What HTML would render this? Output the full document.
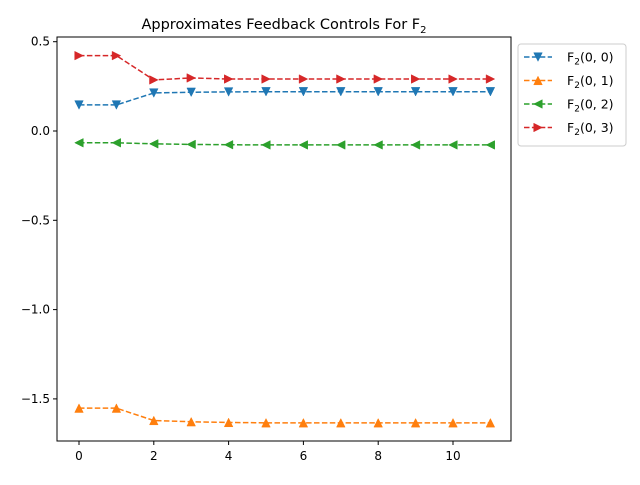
<!DOCTYPE html>
<html><head><meta charset="utf-8"><style>
body{margin:0;background:#fff;font-family:"Liberation Sans","DejaVu Sans",sans-serif}
svg text{font-family:"DejaVu Sans","Liberation Sans",sans-serif}
</style></head><body>
<svg id="chart" width="640" height="480" viewBox="0 0 640 480"></svg>
<script>
const steps=[0,1,2,3,4,5,6,7,8,9,10,11];
const f00=[0.146,0.146,0.213,0.217,0.219,0.220,0.220,0.220,0.220,0.220,0.220,0.220];
const f01=[-1.552,-1.552,-1.621,-1.628,-1.632,-1.634,-1.634,-1.634,-1.634,-1.634,-1.634,-1.634];
const f02=[-0.066,-0.066,-0.072,-0.075,-0.077,-0.078,-0.078,-0.078,-0.078,-0.078,-0.078,-0.078];
const f03=[0.422,0.422,0.286,0.297,0.291,0.291,0.291,0.291,0.291,0.291,0.291,0.291];
const xTicks=[0,2,4,6,8,10];
const yTicks=[0.5,0.0,-0.5,-1.0,-1.5];
const yLabels=["0.5","0.0","\u22120.5","\u22121.0","\u22121.5"];
const seriesNames=["(0, 0)","(0, 1)","(0, 2)","(0, 3)"];
const colors=["#1f77b4","#ff7f0e","#2ca02c","#d62728"];
const NS="http://www.w3.org/2000/svg";
const svg=document.getElementById('chart');
const L=57,R=511,T=37,B=441;
function xs(v){return 79+v*(453-79)/10;}
function ys(v){return 131-v*178.6;}
function mk(tag,a,p){const e=document.createElementNS(NS,tag);for(const k in a)e.setAttribute(k,a[k]);(p||svg).appendChild(e);return e;}
function marker(kind,x,y,c,p){const s=4.3;let pts;
 if(kind==0)pts=[[x-s,y-s],[x+s,y-s],[x,y+s]];
 else if(kind==1)pts=[[x-s,y+s],[x+s,y+s],[x,y-s]];
 else if(kind==2)pts=[[x+s,y-s],[x+s,y+s],[x-s,y]];
 else pts=[[x-s,y-s],[x-s,y+s],[x+s,y]];
 return mk('polygon',{points:pts.map(q=>q.join(',')).join(' '),fill:c,stroke:c,'stroke-width':0.5},p);}
const title=mk('text',{x:284,y:29,'text-anchor':'middle','font-size':14.5});


title.innerHTML='Approximates Feedback Controls For F<tspan font-size="10" dy="4">2</tspan>';
xTicks.forEach(t=>{const x=xs(t);
 const l=mk('line',{x1:x,x2:x,y1:B,y2:B+4,stroke:'#000'});
 
 
 const tx=mk('text',{x:x,y:B+19,'text-anchor':'middle','font-size':12});
 
 
 tx.textContent=t;});
yTicks.forEach((t,i)=>{const y=ys(t);
 const l=mk('line',{x1:L-4,x2:L,y1:y,y2:y,stroke:'#000'});
 
 
 const tx=mk('text',{x:L-7,y:y+4,'text-anchor':'end','font-size':12});
 
 
 tx.textContent=yLabels[i];});
[f00,f01,f02,f03].forEach((d,k)=>{
 const g=mk('g',{});
 
 
 mk('polyline',{points:steps.map((s,i)=>xs(s)+','+ys(d[i])).join(' '),fill:'none',stroke:colors[k],'stroke-width':1.5,'stroke-dasharray':'5.5,2.4'},g);
 steps.forEach((s,i)=>{const m=marker(k,xs(s),ys(d[i]),colors[k],g);
  
  });
});
const frame=mk('rect',{x:L,y:T,width:R-L,height:B-T,fill:'none',stroke:'#000','stroke-width':1});


const lg=mk('g',{});


mk('rect',{x:518,y:44,width:108,height:102,rx:3,fill:'#fff',stroke:'#ccc'},lg);
seriesNames.forEach((n,k)=>{const y=57+k*23.5;
 const e=mk('g',{},lg);
 
 
 mk('line',{x1:524,x2:552,y1:y,y2:y,stroke:colors[k],'stroke-width':1.5,'stroke-dasharray':'5.5,2.4'},e);
 marker(k,538,y,colors[k],e);
 const t=mk('text',{x:567,y:y+4.5,'font-size':12.5},e);
 t.innerHTML='F<tspan font-size="9" dy="3">2</tspan><tspan dy="-3">'+n+'</tspan>';});
</script>
</body></html>
